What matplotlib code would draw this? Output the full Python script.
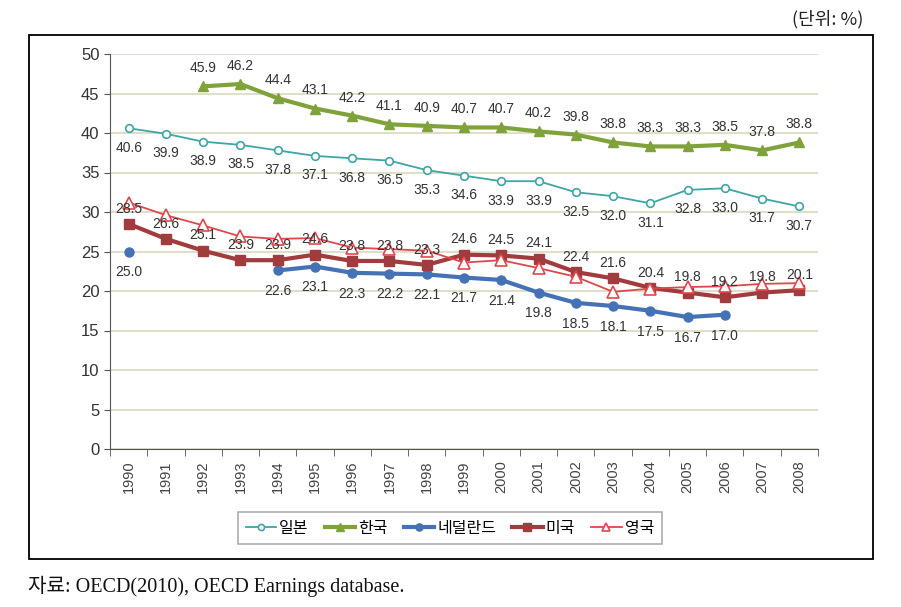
# OECD low-pay share by country, 1990-2008
import numpy as np
import matplotlib.pyplot as plt
from matplotlib.patches import Rectangle

nan = np.nan
years = [str(y) for y in range(1990, 2009)]

japan = [40.6, 39.9, 38.9, 38.5, 37.8, 37.1, 36.8, 36.5, 35.3, 34.6,
         33.9, 33.9, 32.5, 32.0, 31.1, 32.8, 33.0, 31.7, 30.7]
korea = [nan, nan, 45.9, 46.2, 44.4, 43.1, 42.2, 41.1, 40.9, 40.7,
         40.7, 40.2, 39.8, 38.8, 38.3, 38.3, 38.5, 37.8, 38.8]
netherlands = [25.0, nan, nan, nan, 22.6, 23.1, 22.3, 22.2, 22.1, 21.7,
               21.4, 19.8, 18.5, 18.1, 17.5, 16.7, 17.0, nan, nan]
usa = [28.5, 26.6, 25.1, 23.9, 23.9, 24.6, 23.8, 23.8, 23.3, 24.6,
       24.5, 24.1, 22.4, 21.6, 20.4, 19.8, 19.2, 19.8, 20.1]
uk = [31.2, 29.6, 28.3, 26.9, 26.6, 26.7, 25.5, 25.3, 25.1, 23.6,
      23.9, 22.9, 21.8, 19.9, 20.3, 20.5, 20.6, 20.9, 21.0]

names = ['일본', '한국', '네덜란드', '미국', '영국']

kr = ['Noto Sans CJK KR', 'DejaVu Sans']
num_font = ['Liberation Sans Narrow', 'Liberation Sans', 'DejaVu Sans']

fig = plt.figure(figsize=(9.01, 6.07), dpi=100)
ax = fig.add_axes([110 / 901, 1 - 449 / 607, (818 - 110) / 901, (449 - 54) / 607])

x = np.arange(len(years))
ax.plot(x, japan, color='#3fa5a5', lw=1.3, marker='o', ms=5.5,
        mfc='white', mec='#3fa5a5', mew=1.2, label=names[0], zorder=3)
ax.plot(x, korea, color='#7fa33a', lw=3.0, marker='^', ms=7.5,
        mfc='#7fa33a', mec='#7fa33a', label=names[1], zorder=3)
ax.plot(x, netherlands, color='#4572b4', lw=3.0, marker='o', ms=6.5,
        mfc='#4572b4', mec='#4572b4', label=names[2], zorder=3)
ax.plot(x, usa, color='#a13b3d', lw=3.0, marker='s', ms=6.5,
        mfc='#a13b3d', mec='#a13b3d', label=names[3], zorder=4)
ax.plot(x, uk, color='#e0474c', lw=1.3, marker='^', ms=8,
        mfc='white', mec='#e0474c', mew=1.2, label=names[4], zorder=5)

# data labels
def put_labels(vals, dy):
    for xi, v in zip(x, vals):
        if np.isnan(v):
            continue
        ax.annotate(f'{v:.1f}', (xi, v), xytext=(0, dy), textcoords='offset points',
                    ha='center', va='center', fontsize=10, color='#333333',
                    family=num_font, zorder=6)

put_labels(japan, -14)
put_labels(korea, 13)
put_labels(netherlands, -15)
put_labels(usa, 11)

ax.set_ylim(0, 50)
ax.set_yticks(np.arange(0, 51, 5))
ax.set_xlim(-0.5, len(years) - 0.5)
ax.set_xticks(x)
ax.set_xticklabels(years, rotation=90, family=num_font, fontsize=10.5, color='#444444')
ax.set_xticks(np.arange(-0.5, len(years), 1), minor=True)
ax.tick_params(axis='x', which='major', length=0, pad=8)
ax.tick_params(axis='x', which='minor', length=5, direction='out', color='#555555')
ax.tick_params(axis='y', length=4, color='#555555', labelsize=12, labelcolor='#333333')
for lab in ax.get_yticklabels():
    lab.set_family(num_font)

ax.grid(axis='y', color='#dcdcc4', lw=1.3)
ax.set_axisbelow(True)
for s in ['top', 'right']:
    ax.spines[s].set_visible(False)
for s in ['left', 'bottom']:
    ax.spines[s].set_color('#555555')

leg = fig.legend(loc='center', bbox_to_anchor=(450 / 901, 1 - 528 / 607), ncol=5,
                 prop={'family': kr, 'size': 11.5}, frameon=True, fancybox=False,
                 handlelength=1.9, handletextpad=0.2, columnspacing=1.0,
                 borderpad=0.5, markerscale=0.8)
leg.get_frame().set_edgecolor('#999999')
leg.get_frame().set_linewidth(1.2)

# outer frame
fig.patches.append(Rectangle((29 / 901, 1 - 559 / 607), (873 - 29) / 901, (559 - 35) / 607,
                             transform=fig.transFigure, fill=False, ec='black', lw=1.3))

fig.text(863 / 901, 1 - 19 / 607, '(단위: %)', ha='right', va='center',
         family=kr, fontsize=13, color='#222222')
fig.text(28 / 901, 1 - 586 / 607, '자료: OECD(2010), OECD Earnings database.',
         ha='left', va='center', family=['Liberation Serif', 'Noto Sans CJK KR'],
         fontsize=14.5, color='#111111')

fig.savefig('out.png', dpi=100)
